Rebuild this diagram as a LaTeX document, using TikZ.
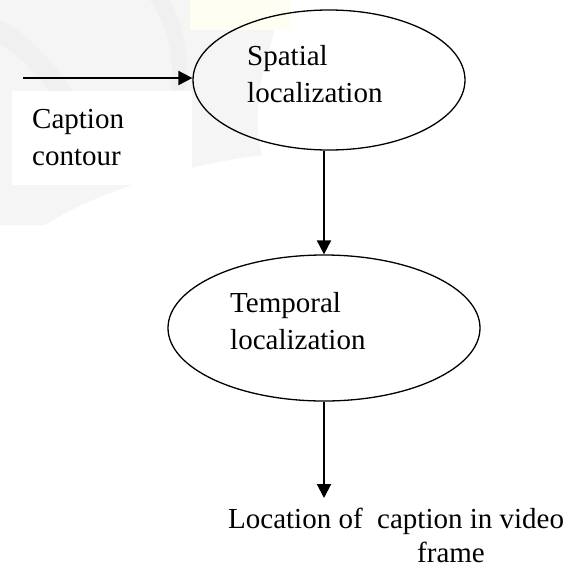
\documentclass[tikz,border=0pt]{standalone}
\usepackage{fontspec}
\setmainfont{Liberation Serif}
\usetikzlibrary{shapes.geometric,arrows.meta}
\begin{document}
\begin{tikzpicture}[x=1pt,y=-1pt,
  lbl/.style={anchor=base west,inner sep=0pt,font=\fontsize{29}{36}\selectfont},
  oval/.style={draw,ellipse,line width=1.3pt,inner sep=0pt},
  arr/.style={line width=2pt,-{Triangle[length=14pt,width=14pt]}}]
\useasboundingbox (0,0) rectangle (575,574);
\fill[white] (0,0) rectangle (575,574);
% faint background watermark
\fill[black!4] (0,0) -- (280,0) -- (272,40) .. controls (255,90) and (255,130) .. (262,155)
  .. controls (180,165) and (90,195) .. (45,225) -- (0,225) -- cycle;
\fill[black!6] (0,20) .. controls (40,40) and (80,90) .. (100,150) -- (80,150) .. controls (60,100) and (30,60) .. (0,45) -- cycle;
\fill[black!6] (150,0) .. controls (170,30) and (175,60) .. (170,90) -- (185,90) .. controls (190,60) and (185,30) .. (170,0) -- cycle;
\fill[yellow!5] (190,0) rectangle (290,30);
\fill[white] (12,91) rectangle (192,185);
% nodes
\node[oval,minimum width=272pt,minimum height=140pt] (sp) at (329,80) {};
\node[oval,minimum width=312pt,minimum height=146pt] (tl) at (324,328) {};
\node[lbl] (sp1) at (247,65) {Spatial};
\node[lbl] (sp2) at (247,102) {localization};
\node[lbl] (tl1) at (230,312) {Temporal};
\node[lbl] (tl2) at (230,349) {localization};
\node[lbl] (cc1) at (32,128) {Caption};
\node[lbl] (cc2) at (32,165) {contour};
\node[lbl] (lo1) at (228,528) {Location of\ \ caption in video};
\node[lbl] (lo2) at (417,562) {frame};
% connectors
\coordinate (in) at (23,78);
\coordinate (out) at (324,498);
\draw[arr] (in) -- (in -| sp.west);
\draw[arr] (tl.north |- sp.south) -- (tl.north);
\draw[arr] (tl.south) -- (out);
\end{tikzpicture}
\end{document}
